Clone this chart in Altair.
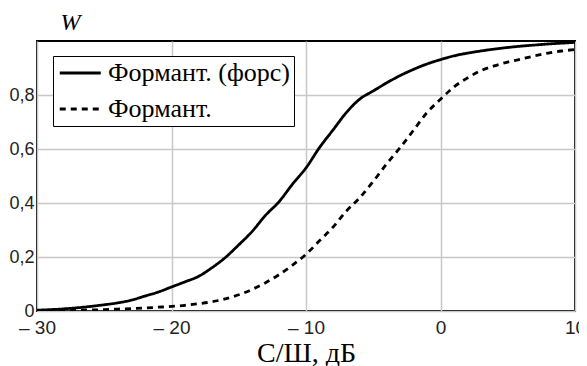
import altair as alt
import pandas as pd

snr = list(range(-30, 11))
w_fors = [0.003, 0.005, 0.008, 0.012, 0.017, 0.023, 0.030, 0.040, 0.055, 0.070,
          0.089, 0.108, 0.128, 0.160, 0.198, 0.245, 0.295, 0.355, 0.405, 0.470,
          0.530, 0.605, 0.670, 0.735, 0.785, 0.815, 0.845, 0.872, 0.895, 0.915,
          0.931, 0.945, 0.955, 0.963, 0.970, 0.976, 0.981, 0.985, 0.989, 0.992, 0.995]
w_plain = [0.000, 0.001, 0.002, 0.003, 0.004, 0.005, 0.007, 0.009, 0.011, 0.014,
           0.017, 0.021, 0.027, 0.034, 0.045, 0.060, 0.080, 0.105, 0.135, 0.170,
           0.210, 0.260, 0.310, 0.370, 0.420, 0.480, 0.545, 0.605, 0.670, 0.735,
           0.784, 0.830, 0.863, 0.890, 0.908, 0.922, 0.933, 0.945, 0.955, 0.963, 0.968]
series = ["Формант. (форс)", "Формант."]
x_ticks = [-30, -20, -10, 0, 10]
y_ticks = [0, 0.2, 0.4, 0.6, 0.8]

rows = []
for x, a, b in zip(snr, w_fors, w_plain):
    rows.append({"snr": x, "W": a, "s": series[0]})
    rows.append({"snr": x, "W": b, "s": series[1]})
df = pd.DataFrame(rows)

SERIF = "Times New Roman, Liberation Serif, serif"
SANS = "Liberation Sans, Arial, sans-serif"

chart = alt.Chart(df).mark_line(color="black", strokeWidth=2.8, clip=True,
                                interpolate="monotone").encode(
    x=alt.X("snr:Q", scale=alt.Scale(domain=[-30, 10], nice=False, zero=False),
            axis=alt.Axis(values=x_ticks, title="С/Ш, дБ", grid=True, domain=False, ticks=False,
                          labelExpr="datum.value < 0 ? '– ' + abs(datum.value) : datum.value",
                          labelFont=SANS, labelFontSize=19, labelColor="#222",
                          labelPadding=7, labelFlush=False,
                          titleFont=SERIF, titleFontSize=28, titleFontWeight="normal",
                          titleColor="black", titlePadding=2)),
    y=alt.Y("W:Q", scale=alt.Scale(domain=[0, 1], nice=False),
            axis=alt.Axis(values=y_ticks, title="W", grid=True, domain=False, ticks=False,
                          labelExpr="replace(format(datum.value, '.1~f'), '.', ',')",
                          labelFont=SANS, labelFontSize=18, labelColor="#222",
                          labelPadding=3,
                          titleAngle=0, titleX=33, titleY=-12, titleBaseline="alphabetic",
                          titleFont=SERIF, titleFontStyle="italic", titleFontSize=24,
                          titleFontWeight="normal", titleColor="black", titleAlign="center")),
    strokeDash=alt.StrokeDash("s:N", scale=alt.Scale(domain=series, range=[[1, 0], [6, 5]]),
                              legend=alt.Legend(orient="none", legendX=16, legendY=15, title=None,
                                                symbolType="M-1,0H3", symbolSize=420,
                                                symbolStrokeWidth=2.8, symbolStrokeColor="black",
                                                labelFont=SERIF, labelFontSize=26, labelLimit=400,
                                                labelColor="black", labelOffset=25,
                                                strokeColor="black", fillColor="white",
                                                padding=4, rowPadding=10)),
    order="snr:Q",
).properties(
    width=538, height=270,
    autosize=alt.AutoSizeParams(type="none"),
    padding={"left": 29, "top": 33, "right": 4, "bottom": 60},
).configure_view(stroke="black", strokeWidth=2).configure_axis(
    gridColor="#c8c8c8", gridWidth=1.5
)

chart.save("out.html", embed_options={"renderer": "svg", "actions": False})
